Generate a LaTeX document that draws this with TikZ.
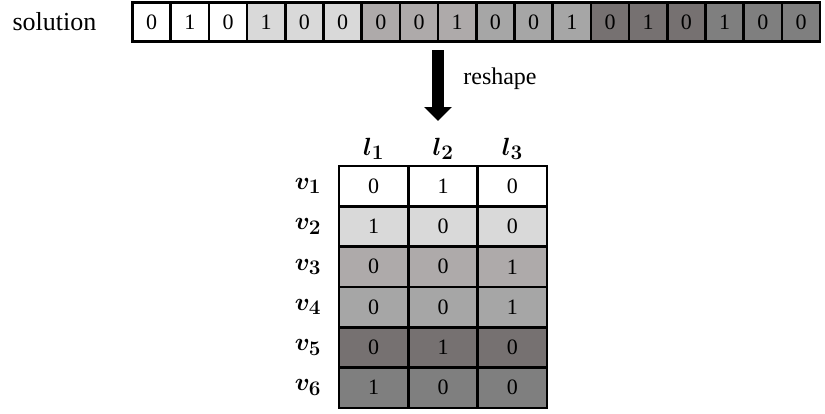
\documentclass[tikz,border=0pt]{standalone}
\usepackage{fontspec}
\setmainfont{Liberation Serif}
\usetikzlibrary{arrows.meta}

% cell shades, one per group of three
\definecolor{shade0}{HTML}{FFFFFF}
\definecolor{shade1}{HTML}{D9D9D9}
\definecolor{shade2}{HTML}{AEAAAA}
\definecolor{shade3}{HTML}{A6A6A6}
\definecolor{shade4}{HTML}{767171}
\definecolor{shade5}{HTML}{7F7F7F}

\begin{document}
\begin{tikzpicture}[x=1pt,y=-1pt,
    cell/.style={draw,line width=2.6pt,minimum width=38.2pt,minimum height=39.5pt,
      inner sep=0pt,font=\fontsize{22}{22}\selectfont},
    mcell/.style={cell,minimum width=69.3pt,minimum height=40.3pt},
    lab/.style={font=\fontsize{29}{29}\selectfont\boldmath}]

    \useasboundingbox (0,0) rectangle (825,413);

    % define coordinates
    \coordinate (arrowtop) at (438,50) ;
    \coordinate (arrowtip) at (438,121) ;

    % solution vector
    \node[font=\fontsize{26}{26}\selectfont] (sol) at (54.5,22) {solution};
    \foreach \v [count=\i from 0] in {0,1,0,1,0,0,0,0,1,0,0,1,0,1,0,1,0,0} {
      \pgfmathtruncatemacro{\g}{int(\i/3)}
      \node[cell,fill=shade\g] (s\i) at ({132.5+38.2*(\i+0.5)},22) {\v};
    }

    % reshape arrow
    \draw[line width=12pt,-{Triangle[width=27pt,length=14pt]}] (arrowtop) -- (arrowtip) ;
    \node[font=\fontsize{24}{24}\selectfont] (reshape) at (500,79) {reshape};

    % column labels
    \node[lab] (l1) at (373.6,149) {$l_1$};
    \node[lab] (l2) at (443,149) {$l_2$};
    \node[lab] (l3) at (512.3,149) {$l_3$};

    % reshaped matrix
    \foreach \a/\b/\c [count=\r from 1] in {0/1/0,1/0/0,0/0/1,0/0/1,0/1/0,1/0/0} {
      \pgfmathtruncatemacro{\g}{\r-1}
      \node[mcell,fill=shade\g] (m\r a) at (373.6,{166+40.3*(\r-0.5)}) {\a};
      \node[mcell,fill=shade\g] (m\r b) at (443,{166+40.3*(\r-0.5)}) {\b};
      \node[mcell,fill=shade\g] (m\r c) at (512.3,{166+40.3*(\r-0.5)}) {\c};
      \node[lab] (v\r) at (308,{166+40.3*(\r-0.5)}) {$v_\r$};
    }

\end{tikzpicture}
\end{document}
